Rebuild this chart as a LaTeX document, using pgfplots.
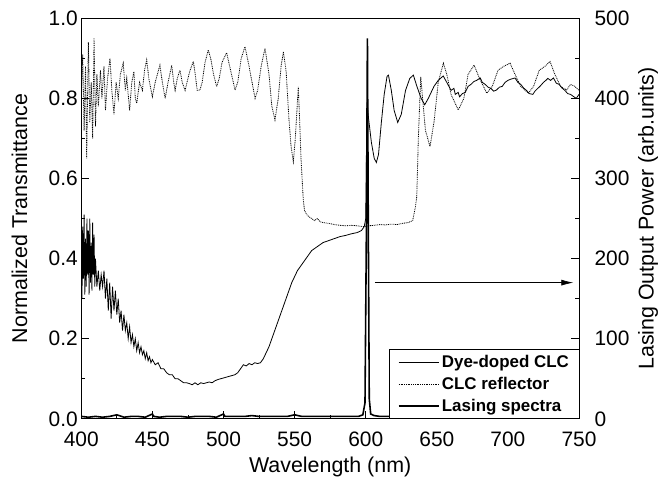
\documentclass[border=0pt]{standalone}
\usepackage{pgfplots}
\pgfplotsset{compat=1.18}
\usepackage{fontspec}
\setmainfont{Liberation Sans}
\usetikzlibrary{arrows.meta}

\pgfplotstableread{
x y
400 0.50
400.5 0.30
401 0.48
401.5 0.35
402 0.51
402.5 0.31
403 0.45
403.5 0.33
404 0.50
404.5 0.36
405 0.47
405.5 0.31
406 0.50
406.5 0.34
407 0.44
407.5 0.32
408 0.49
408.5 0.36
409 0.46
409.5 0.33
410 0.40
411 0.33
412 0.37
413 0.32
414 0.36
415 0.33
416 0.37
417 0.30
418 0.35
419 0.27
420 0.34
421 0.25
422 0.33
423 0.27
424 0.32
425 0.26
426 0.30
427 0.24
428 0.27
429 0.22
430 0.26
431 0.22
432 0.24
433 0.20
434 0.23
435 0.19
436 0.21
437 0.18
438 0.20
439 0.17
440 0.19
441 0.165
442 0.18
443 0.16
444 0.17
445 0.15
446 0.165
447 0.145
448 0.155
449 0.14
450 0.148
452 0.135
454 0.14
456 0.125
458 0.125
460 0.115
462 0.11
464 0.11
466 0.10
468 0.10
470 0.095
472 0.09
474 0.09
476 0.088
478 0.085
480 0.09
482 0.085
484 0.09
486 0.088
488 0.09
490 0.092
492 0.09
494 0.095
496 0.098
498 0.10
500 0.102
502 0.104
504 0.106
506 0.108
508 0.11
510 0.115
512 0.125
514 0.135
516 0.132
518 0.138
520 0.135
522 0.14
524 0.138
526 0.14
528 0.15
530 0.165
532 0.18
534 0.20
536 0.22
538 0.24
540 0.26
542 0.28
544 0.30
546 0.32
548 0.34
550 0.355
552 0.37
554 0.38
556 0.39
558 0.40
560 0.41
562 0.42
564 0.425
566 0.43
568 0.435
570 0.44
574 0.445
578 0.45
582 0.455
586 0.458
590 0.462
594 0.465
597 0.47
599 0.48
600 0.50
601 0.79
602 0.75
604 0.69
606 0.65
607.5 0.64
609 0.66
611 0.74
613 0.81
615 0.855
616 0.858
618 0.82
620 0.77
622.5 0.74
625 0.76
628 0.82
631 0.85
633.5 0.858
636 0.83
639 0.80
641.5 0.784
644 0.80
648 0.83
651 0.845
654.5 0.856
657 0.84
660 0.82
662 0.825
663 0.81
665 0.815
666 0.804
668 0.812
670 0.815
672 0.83
674 0.835
676 0.842
678 0.845
680.5 0.851
682 0.84
684 0.835
686 0.828
688 0.825
690 0.818
692 0.821
694 0.828
696 0.83
698 0.84
700 0.845
702 0.848
705 0.851
707 0.84
709 0.835
711 0.826
713 0.82
715 0.812
717.5 0.81
719 0.818
721 0.825
723 0.832
725 0.84
727 0.846
728 0.85
730 0.845
732 0.851
734 0.838
736 0.835
738 0.826
740 0.82
742 0.812
744 0.81
746 0.805
748 0.80
750 0.81
}\dyedoped

\pgfplotstableread{
x y
400 0.80
401 0.91
402 0.72
403 0.88
403.8 0.65
405 0.94
406 0.74
407 0.84
408 0.70
409 0.95
410 0.73
411 0.86
412 0.78
413.5 0.87
414.5 0.80
416 0.88
417 0.77
418.5 0.85
420.2 0.90
421.5 0.82
423 0.76
424.5 0.84
426 0.80
427.5 0.86
429.5 0.888
431 0.82
432 0.85
434 0.77
435.5 0.84
437 0.867
438 0.80
439 0.788
441 0.84
443 0.82
444.5 0.87
446 0.896
447.5 0.85
450 0.804
452 0.84
453.5 0.86
455.3 0.883
457 0.84
459 0.80
461 0.84
463.6 0.883
465 0.84
466 0.82
467.5 0.85
469.4 0.87
471 0.84
473 0.82
475 0.85
476.5 0.87
478.8 0.892
480.5 0.85
481.5 0.82
483.5 0.821
485 0.84
487 0.89
489.3 0.921
491 0.90
493 0.86
495.2 0.829
497 0.85
499 0.89
502.2 0.914
505 0.87
508.1 0.821
510 0.84
512.5 0.90
515.1 0.929
518 0.88
522.2 0.80
524 0.82
526.5 0.88
529.2 0.925
532 0.86
534 0.78
536.2 0.746
538.5 0.80
540.5 0.88
542.1 0.917
544 0.87
546 0.75
547.5 0.68
549.1 0.642
550.5 0.70
552.6 0.829
553.5 0.75
554.5 0.65
556.1 0.547
557 0.52
558.5 0.51
560 0.505
562 0.50
564 0.495
566 0.50
568 0.492
570 0.49
574 0.488
578 0.485
582 0.483
586 0.482
590 0.483
594 0.482
598 0.48
602 0.482
606 0.483
610 0.485
614 0.484
618 0.486
622 0.485
626 0.488
630 0.49
633 0.495
635 0.53
635.9 0.555
637 0.70
638.7 0.854
640 0.80
642 0.72
645.2 0.68
648 0.74
651 0.84
654.6 0.888
657 0.86
660 0.81
665.1 0.771
669 0.80
672 0.86
676.2 0.883
680 0.85
685.1 0.813
689 0.83
693 0.87
697 0.88
701.5 0.888
705 0.86
709 0.83
714.4 0.813
718 0.83
722 0.87
726 0.88
729.6 0.892
733 0.86
737 0.83
741.3 0.821
744 0.835
747 0.83
750 0.82
}\reflector

\pgfplotstableread{
x y
400 3
405 2
410 3
415 2
420 3
425 5
430 2
435 3
440 3
445 2
450 6
451 3
455 2
460 3
465 3
470 3
475 2
480 3
485 3
490 3
495 2
500 6
501 3
505 3
510 3
515 3
520 4
525 3
530 3
535 3
540 3
545 3
550 5
555 3
560 3
565 3
570 3
575 3
580 3
585 3
590 3
595 3
598 5
599.5 20
600.5 240
601.2 475
601.8 250
602.5 25
603.5 6
606 4
610 3
620 3
630 3
640 3
650 4
660 3
670 3
680 3
690 3
700 3
710 3
720 3
730 3
740 3
750 3
}\lasing

\begin{document}
\begin{tikzpicture}
\pgfplotsset{
  common/.style={
    width=498bp, height=400.7bp, scale only axis,
    xmin=400, xmax=750,
    tick align=inside,
    major tick length=8bp, minor tick length=4bp,
    every tick/.style={black, line width=0.8pt},
    axis line style={line width=1pt},
    tick label style={font=\fontsize{21}{25}\selectfont},
    label style={font=\fontsize{21.5}{26}\selectfont},
  }
}
\begin{axis}[common, name=main,
  ymin=0, ymax=1,
  xtick={400,450,...,750}, minor x tick num=1,
  ytick={0,0.2,...,1.0}, minor y tick num=1,
  xtick pos=bottom, ytick pos=left,
  yticklabel style={/pgf/number format/.cd, fixed, fixed zerofill, precision=1, assume math mode=true},
  xticklabel style={/pgf/number format/assume math mode=true, anchor=base, yshift=-27.7bp},
  xlabel={Wavelength (nm)},
  xlabel style={at={(axis description cs:0.5,0)}, anchor=base, yshift=-54bp},
  ylabel={Normalized Transmittance},
  ylabel style={at={(axis description cs:0,0.5)}, anchor=center, yshift=61.8bp},
]
\addplot[black, line width=0.8pt] table {\dyedoped};
\addplot[black, line width=0.8pt, dash pattern=on 0.9pt off 0.9pt] table {\reflector};
\draw[black, line width=0.7pt, -{Latex[length=12bp, width=6bp]}] (axis cs:606.5,0.34) -- (axis cs:746,0.34);
\end{axis}
\begin{axis}[common,
  ymin=0, ymax=500,
  axis x line=none, axis y line*=right,
  ytick={0,100,...,500}, minor y tick num=1,
  yticklabel style={/pgf/number format/assume math mode=true, anchor=west, xshift=12bp},
  ylabel={Lasing Output Power (arb.units)},
  ylabel style={at={(axis description cs:1,0.5)}, anchor=center, yshift=-69bp},
  legend style={at={(axis cs:750,0)}, anchor=south east, draw=black,
     font=\fontsize{17}{20}\bfseries\selectfont, cells={anchor=west},
     inner xsep=8bp, inner ysep=4bp, row sep=4bp},
]
\addlegendimage{legend image code/.code={\draw[black, line width=0.8pt] (0bp,0bp) -- (40bp,0bp);}}
\addlegendentry{Dye-doped CLC}
\addlegendimage{legend image code/.code={\draw[black, line width=0.8pt, dash pattern=on 0.9pt off 0.9pt] (0bp,0bp) -- (40bp,0bp);}}
\addlegendentry{CLC reflector}
\addlegendimage{legend image code/.code={\draw[black, line width=2.4pt] (0bp,0bp) -- (40bp,0bp);}}
\addlegendentry{Lasing spectra}
\addplot[black, line width=1.6pt, forget plot] table {\lasing};
\end{axis}
\pgfresetboundingbox
\path ([shift={(-81.3bp,-64bp)}]main.south west) rectangle ([shift={(83bp,18.3bp)}]main.north east);
\end{tikzpicture}
\end{document}
